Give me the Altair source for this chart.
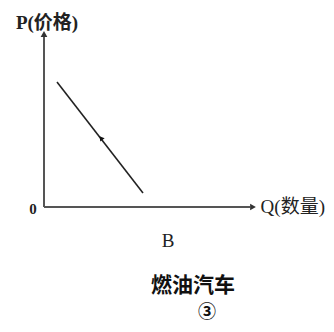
import altair as alt
import pandas as pd

# Demand curve endpoints (Q, P)
demand_q = [0.65, 4.95]
demand_p = [6.25, 0.7]

# Axis extents
q_axis_end = 10.3
p_axis_end = 8.5

# Mid-curve direction arrow (Q, P)
mid_q = [2.85]
mid_p = [3.45]

# Labels
axis_labels = ["P(价格)", "Q(数量)", "0"]
axis_label_q = [0.15, 14.05, -0.55]
axis_label_p = [9.2, 0.0, -0.1]
sub_labels = ["B", "燃油汽车", "③"]
sub_label_q = [6.2, 7.45, 8.15]
sub_label_p = [-1.7, -3.95, -5.3]

X = alt.Scale(domain=[-1.8, 14.1], nice=False, zero=False)
Y = alt.Scale(domain=[-5.85, 9.95], nice=False, zero=False)

def xe(f="q"):
    return alt.X(f"{f}:Q", scale=X, axis=None)

def ye(f="p"):
    return alt.Y(f"{f}:Q", scale=Y, axis=None)

axes_df = pd.DataFrame({
    "q": [0, 0], "p": [0, 0],
    "q2": [0, q_axis_end], "p2": [p_axis_end, 0],
})
axes = alt.Chart(axes_df).mark_rule(color="#555555", strokeWidth=2).encode(
    x=xe(), y=ye(), x2="q2:Q", y2="p2:Q"
)

heads_df = pd.DataFrame({
    "q": [0, q_axis_end + 0.15], "p": [p_axis_end + 0.15, 0], "ang": [0, 90]
})
heads = alt.Chart(heads_df).mark_point(
    shape="triangle-up", filled=True, color="#333333", size=45, opacity=1
).encode(x=xe(), y=ye(), angle=alt.Angle("ang:Q", scale=None))

demand_df = pd.DataFrame({"q": demand_q, "p": demand_p})
demand = alt.Chart(demand_df).mark_line(color="#222222", strokeWidth=1.6).encode(
    x=xe(), y=ye()
)

mid_df = pd.DataFrame({"q": mid_q, "p": mid_p, "ang": [322]})
mid = alt.Chart(mid_df).mark_point(
    shape="triangle-up", filled=True, color="#111111", size=30, opacity=1
).encode(x=xe(), y=ye(), angle=alt.Angle("ang:Q", scale=None))

ax_df = pd.DataFrame({"t": axis_labels, "q": axis_label_q, "p": axis_label_p})
ptxt = alt.Chart(ax_df.iloc[[0]]).mark_text(
    font="Liberation Serif, Noto Sans CJK SC", fontSize=19, fontWeight="bold",
    color="#222222", align="center", baseline="middle"
).encode(x=xe(), y=ye(), text="t:N")
qtxt = alt.Chart(ax_df.iloc[[1]]).mark_text(
    font="Liberation Serif, Noto Sans CJK SC", fontSize=19,
    color="#222222", align="right", baseline="middle"
).encode(x=xe(), y=ye(), text="t:N")
ztxt = alt.Chart(ax_df.iloc[[2]]).mark_text(
    font="Liberation Serif", fontSize=15, fontWeight="bold",
    color="#222222", align="center", baseline="middle"
).encode(x=xe(), y=ye(), text="t:N")

sub_df = pd.DataFrame({"t": sub_labels, "q": sub_label_q, "p": sub_label_p})
btxt = alt.Chart(sub_df.iloc[[0]]).mark_text(
    font="Liberation Serif", fontSize=19, color="#222222",
    align="center", baseline="middle"
).encode(x=xe(), y=ye(), text="t:N")
ttxt = alt.Chart(sub_df.iloc[[1]]).mark_text(
    font="Noto Sans CJK SC", fontSize=21, fontWeight="bold", color="#111111",
    align="center", baseline="middle"
).encode(x=xe(), y=ye(), text="t:N")
ctxt = alt.Chart(sub_df.iloc[[2]]).mark_text(
    font="Noto Sans CJK SC", fontSize=18, fontWeight="bold", color="#111111",
    align="center", baseline="middle"
).encode(x=xe(), y=ye(), text="t:N")

chart = alt.layer(axes, heads, demand, mid, ptxt, qtxt, ztxt, btxt, ttxt, ctxt).properties(
    width=318, height=316, autosize=alt.AutoSizeParams(type="none"), padding=0,
    background="white"
).configure_view(stroke=None)

chart.save("out.html", embed_options={"renderer": "svg", "actions": False})
